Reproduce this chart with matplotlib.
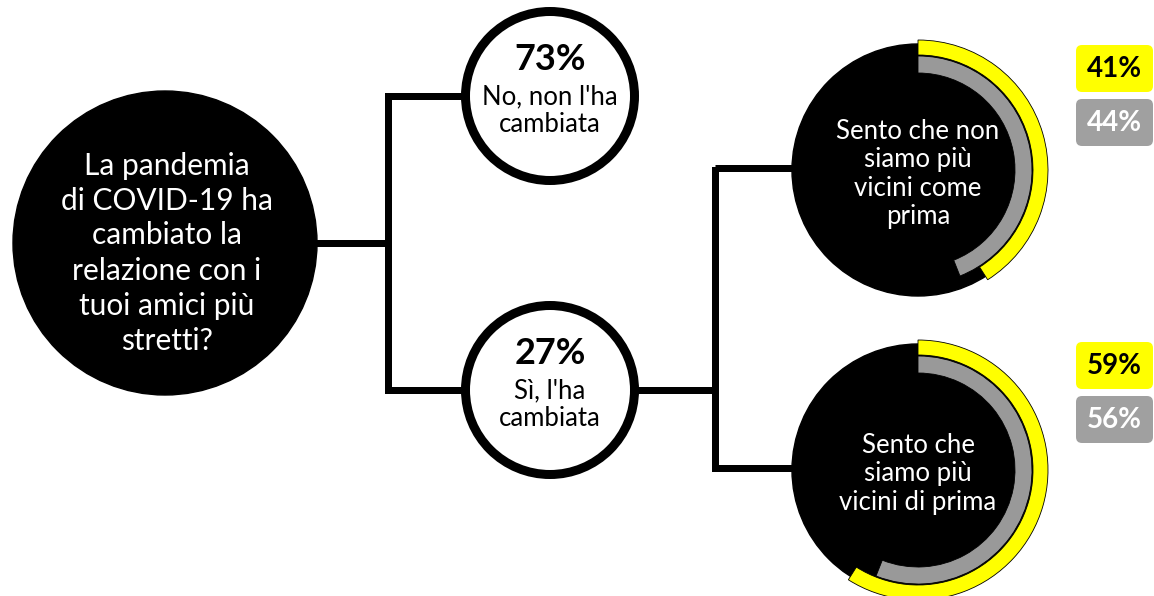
import matplotlib
matplotlib.use("Agg")
import matplotlib.pyplot as plt
from matplotlib.patches import Circle, Wedge, FancyBboxPatch

plt.rcParams['font.family'] = ['Lato', 'DejaVu Sans']

# ---- data ----
question_lines = ["La pandemia", "di COVID-19 ha", "cambiato la", "relazione con i", "tuoi amici più", "stretti?"]
answer_pcts = [73, 27]
answer_labels = [["No, non l'ha", "cambiata"], ["Sì, l'ha", "cambiata"]]
sub_labels = [["Sento che non", "siamo più", "vicini come", "prima"],
              ["Sento che", "siamo più", "vicini di prima"]]
yellow_vals = [41, 59]
gray_vals = [44, 56]

YELLOW = "#ffff00"
GRAY = "#999999"
BOXGRAY = "#a0a0a0"

W, H = 1154, 596
fig = plt.figure(figsize=(W / 100, H / 100), dpi=100)
ax = fig.add_axes([0, 0, 1, 1])
ax.set_xlim(0, W)
ax.set_ylim(0, H)
ax.set_aspect('equal')
ax.axis('off')

def Y(y):
    return H - y

px = 0.72  # points per pixel

def lines_text(x, yc, lines, size, spacing, color, weight='normal'):
    n = len(lines)
    for i, s in enumerate(lines):
        yy = yc + (i - (n - 1) / 2) * spacing
        ax.text(x, Y(yy), s, ha='center', va='center', fontsize=size,
                color=color, fontweight=weight, zorder=10)

# positions (layout)
big_c = (165, 243); big_r = 152
ans_c = [(550, 96), (550, 390)]; ans_r = 89
don_c = [(918, 170), (918, 470)]

lw = 7 * px
# connectors
ax.plot([big_c[0], 388], [Y(243), Y(243)], color='black', lw=lw, zorder=1, solid_capstyle='butt')
ax.plot([388, 388], [Y(ans_c[0][1]), Y(ans_c[1][1])], color='black', lw=lw, zorder=1, solid_capstyle='projecting')
for c in ans_c:
    ax.plot([388, c[0]], [Y(c[1]), Y(c[1])], color='black', lw=lw, zorder=1, solid_capstyle='butt')
ax.plot([ans_c[1][0], 715], [Y(ans_c[1][1]), Y(ans_c[1][1])], color='black', lw=lw, zorder=1, solid_capstyle='butt')
ax.plot([715, 715], [Y(don_c[0][1]), Y(don_c[1][1] - 2)], color='black', lw=lw, zorder=1, solid_capstyle='projecting')
for c in don_c:
    ax.plot([715, c[0]], [Y(c[1] - 2), Y(c[1] - 2)], color='black', lw=lw, zorder=1, solid_capstyle='butt')

# big question circle
ax.add_patch(Circle((big_c[0], Y(big_c[1])), big_r, color='black', zorder=2))
lines_text(big_c[0] + 2, 253, question_lines, 21.5, 35, 'white')

# answer circles
for c, pct, lab in zip(ans_c, answer_pcts, answer_labels):
    ax.add_patch(Circle((c[0], Y(c[1])), ans_r - 4.5, facecolor='white', edgecolor='black',
                        lw=9 * px, zorder=2))
    ax.text(c[0], Y(c[1] - 36), f"{pct}%", ha='center', va='center', fontsize=26,
            fontweight='bold', color='black', zorder=10)
    lines_text(c[0], c[1] + 15, lab, 18.5, 28, 'black')

# donuts
for i, c in enumerate(don_c):
    cx, cy = c[0], Y(c[1])
    ax.add_patch(Circle((cx, cy), 126, color='black', zorder=2))
    yv = yellow_vals[i]
    gv = gray_vals[i]
    ax.add_patch(Wedge((cx, cy), 130, 90 - yv * 3.6, 90, width=15, facecolor=YELLOW,
                       edgecolor='black', lw=0.6, zorder=3))
    ax.add_patch(Wedge((cx, cy), 114, 90 - gv * 3.6, 90, width=17, facecolor=GRAY,
                       edgecolor='black', lw=0.6, zorder=3))
    lines_text(cx, c[1] + 4, sub_labels[i], 18.5, 28.5, 'white')

    # value boxes
    boxes = [(yv, YELLOW, 'black'), (gv, BOXGRAY, 'white')]
    y0 = [45, 342][i]
    for j, (v, fc, tc) in enumerate(boxes):
        top = y0 + j * 54
        ax.add_patch(FancyBboxPatch((1076, Y(top + 47)), 77, 47,
                                    boxstyle="round,pad=0,rounding_size=6",
                                    facecolor=fc, edgecolor='none', zorder=5))
        ax.text(1114, Y(top + 24), f"{v}%", ha='center', va='center', fontsize=20,
                fontweight='bold', color=tc, zorder=10)

fig.savefig("out.png", dpi=100, facecolor='white')
